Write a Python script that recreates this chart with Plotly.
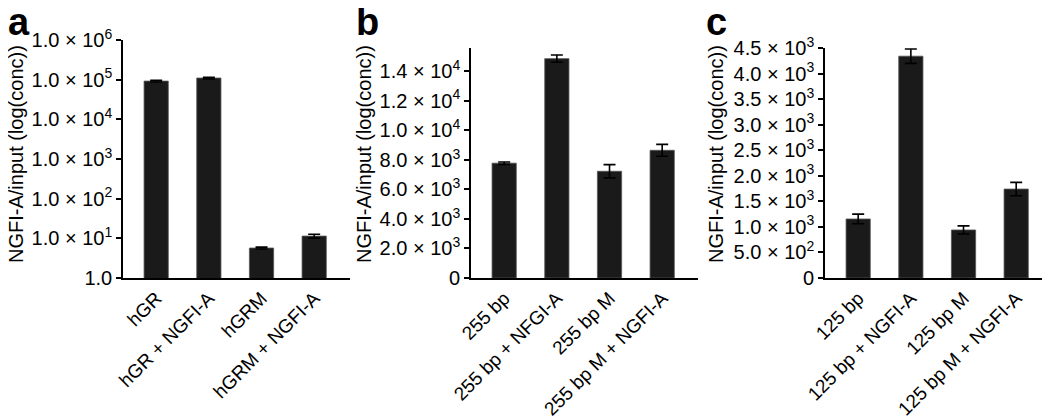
import plotly.graph_objects as go

# panel a (log scale)
cats_a = ["hGR", "hGR + NGFI-A", "hGRM", "hGRM + NGFI-A"]
vals_a = [92000, 110000, 5.7, 11.4]
err_a = [5000, 5000, 0.3, 1.3]
ticks_a = [1, 10, 100, 1000, 10000, 100000, 1000000]
ticktext_a = ["1.0", "1.0 × 10<sup>1</sup>", "1.0 × 10<sup>2</sup>", "1.0 × 10<sup>3</sup>",
              "1.0 × 10<sup>4</sup>", "1.0 × 10<sup>5</sup>", "1.0 × 10<sup>6</sup>"]

# panel b
cats_b = ["255 bp", "255 bp + NFGI-A", "255 bp M", "255 bp M + NGFI-A"]
vals_b = [7780, 14860, 7230, 8650]
err_b = [80, 250, 450, 400]
ticks_b = [0, 2000, 4000, 6000, 8000, 10000, 12000, 14000]
ticktext_b = ["0", "2.0 × 10<sup>3</sup>", "4.0 × 10<sup>3</sup>", "6.0 × 10<sup>3</sup>",
              "8.0 × 10<sup>3</sup>", "1.0 × 10<sup>4</sup>", "1.2 × 10<sup>4</sup>", "1.4 × 10<sup>4</sup>"]

# panel c
cats_c = ["125 bp", "125 bp + NGFI-A", "125 bp M", "125 bp M + NGFI-A"]
vals_c = [1155, 4340, 940, 1740]
err_c = [95, 140, 80, 130]
ticks_c = [0, 500, 1000, 1500, 2000, 2500, 3000, 3500, 4000, 4500]
ticktext_c = ["0", "5.0 × 10<sup>2</sup>", "1.0 × 10<sup>3</sup>", "1.5 × 10<sup>3</sup>",
              "2.0 × 10<sup>3</sup>", "2.5 × 10<sup>3</sup>", "3.0 × 10<sup>3</sup>",
              "3.5 × 10<sup>3</sup>", "4.0 × 10<sup>3</sup>", "4.5 × 10<sup>3</sup>"]

W, H = 1050, 419
FONT = "Liberation Sans"
BAR = "#1a1a1a"

fig = go.Figure()

panels = [
    ("", cats_a, vals_a, err_a, ticks_a, ticktext_a, (115, 342), (32, 270), "log", [0, 6], "a", -2, 8),
    ("2", cats_b, vals_b, err_b, ticks_b, ticktext_b, (463, 690), (40, 270), "linear", [0, 15580], "b", 346, 356),
    ("3", cats_c, vals_c, err_c, ticks_c, ticktext_c, (817, 1044), (40, 270), "linear", [0, 4500], "c", 696, 708),
]

for sfx, cats, vals, errs, tv, tt, (x0, x1), (y0, y1), ytype, yr, letter, lx, tx in panels:
    fig.add_trace(go.Bar(
        x=cats, y=vals, width=0.46,
        marker=dict(color=BAR, line=dict(color="#555555", width=0.8)),
        error_y=dict(type="data", array=errs, color="black", thickness=1.6, width=6),
        xaxis="x" + sfx, yaxis="y" + sfx, showlegend=False,
    ))
    fig.update_layout({
        "xaxis" + sfx: dict(
            domain=[x0 / W, x1 / W], anchor="y" + sfx, range=[-0.63, 3.68],
            showline=True, linecolor="black", linewidth=1.6, ticks="",
            tickangle=-45, tickfont=dict(family=FONT, size=19, color="black"),
            showgrid=False, zeroline=False, fixedrange=True, automargin=False,
        ),
        "yaxis" + sfx: dict(
            domain=[1 - y1 / H, 1 - y0 / H], anchor="x" + sfx, type=ytype, range=yr,
            showline=True, linecolor="black", linewidth=1.6, ticks="outside",
            ticklen=5, tickwidth=1.6, tickcolor="black",
            tickvals=tv, ticktext=tt, tickfont=dict(family=FONT, size=20, color="black"),
            showgrid=False, zeroline=False, fixedrange=True, automargin=False,
        ),
    })
    fig.add_annotation(text="NGFI-A/input (log(conc))", textangle=-90,
                       x=tx / W, y=1 - 146 / H, xref="paper", yref="paper",
                       xanchor="center", yanchor="middle",
                       showarrow=False, font=dict(family=FONT, size=20, color="black"))
    fig.add_annotation(text="<b>" + letter + "</b>", x=lx / W, y=1 + 9 / H,
                       xref="paper", yref="paper", xanchor="left", yanchor="top",
                       showarrow=False, font=dict(family=FONT, size=38, color="black"))

fig.update_layout(
    template="none",
    width=W, height=H,
    margin=dict(l=0, r=0, t=0, b=0),
    plot_bgcolor="white", paper_bgcolor="white",
    bargap=0.5,
)

fig.write_html("out.html")
